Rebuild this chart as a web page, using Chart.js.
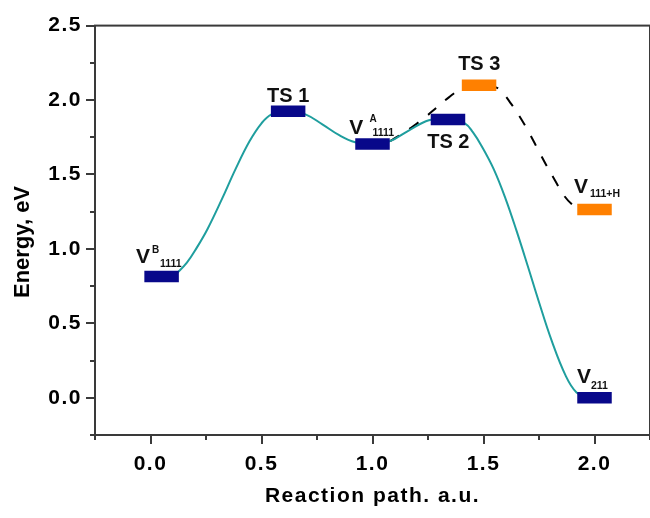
<!DOCTYPE html>
<html><head><meta charset="utf-8">
<script src="https://cdn.jsdelivr.net/npm/chart.js@4.4.1/dist/chart.umd.min.js"></script>
<style>html,body{margin:0;padding:0;background:#fff;overflow:hidden}canvas{display:block}</style>
</head><body>
<canvas id="c" width="650" height="518"></canvas>
<script>
// ---------- data ----------
const levelNames = ['VB1111', 'TS1', 'VA1111', 'TS2', 'TS3', 'V111+H', 'V211'];
const levelX = [0.05, 0.62, 1.0, 1.34, 1.48, 2.0, 2.0];
const levelE = [0.815, 1.925, 1.705, 1.87, 2.10, 1.265, 0.0];
const levelKind = ['main', 'main', 'main', 'main', 'alt', 'alt', 'main'];
const labelMain = ['V', 'TS 1', 'V', 'TS 2', 'TS 3', 'V', 'V'];
const labelSup = ['B', '', 'A', '', '', '', ''];
const labelSub = ['1111', '', '1111', '', '', '111+H', '211'];

// solid path (V^B -> TS1 -> V^A -> TS2 -> V211)
const pathX = [0.114,0.163,0.208,0.257,0.320,0.383,0.446,0.500,0.545,0.617,0.698,0.774,0.850,0.922,0.999,1.079,1.165,1.254,1.339,1.416,1.452,1.492,1.546,1.600,1.649,1.699,1.748,1.807,1.870,1.919,1.973];
const pathE = [0.829,0.906,1.007,1.134,1.329,1.536,1.723,1.844,1.904,1.931,1.904,1.837,1.764,1.717,1.704,1.724,1.797,1.864,1.877,1.844,1.784,1.690,1.536,1.335,1.121,0.887,0.652,0.384,0.149,0.036,0.0];
// dashed path (V^A -> TS3 -> V111+H)
const altX = [1.079,1.129,1.183,1.237,1.290,1.344,1.398,1.479,1.556,1.592,1.623,1.659,1.704,1.749,1.785,1.821,1.861,1.897,1.928,1.996];
const altE = [1.724,1.770,1.824,1.884,1.951,2.018,2.072,2.098,2.085,2.038,1.978,1.898,1.784,1.657,1.557,1.463,1.362,1.302,1.275,1.266];

const xMajorTicks = [0, 0.5, 1.0, 1.5, 2.0];
const xMinorTicks = [-0.25, 0.25, 0.75, 1.25, 1.75, 2.25];
const yMajorTicks = [0, 0.5, 1.0, 1.5, 2.0, 2.5];
const yMinorTicks = [-0.25, 0.25, 0.75, 1.25, 1.75, 2.25];

// ---------- style ----------
const NAVY = '#08088a', ORANGE = '#ff8000', TEAL = '#1f9e9e', AXIS = '#3a3a3a';
const FONT = 'Liberation Sans';
// label offsets in px relative to level centre
const LBL = [
  {m: [-25.6, -13.5], sup: [-9.6, -23.5], sub: [-1.6, -9]},
  {m: [0, -9.7], c: true},
  {m: [-23.3, -9.8], sup: [-3, -21.5], sub: [0, -7.8]},
  {m: [0.3, 28.7], c: true},
  {m: [0.2, -15], c: true},
  {m: [-20.5, -16.5], sub: [-4.5, -12.8]},
  {m: [-17.5, -14.5], sub: [-3.5, -9.2]}
];

const pts = (xs, ys) => xs.map((v, i) => ({x: v, y: ys[i]}));

const decor = {
  id: 'decor',
  beforeDraw(chart) { chart.ctx.letterSpacing = '1.5px'; },
  beforeDatasetsDraw(chart) { chart.ctx.letterSpacing = '0px'; },
  afterDatasetsDraw(chart) {
    const {ctx, chartArea: a, scales: {x, y}} = chart;
    ctx.save();
    ctx.strokeStyle = AXIS; ctx.lineWidth = 2;
    ctx.strokeRect(a.left, a.top, a.right - a.left, a.bottom - a.top);
    ctx.beginPath();
    yMajorTicks.forEach(v => { const p = Math.round(y.getPixelForValue(v)); ctx.moveTo(a.left - 9, p); ctx.lineTo(a.left, p); });
    yMinorTicks.forEach(v => { const p = Math.round(y.getPixelForValue(v)); ctx.moveTo(a.left - 5, p); ctx.lineTo(a.left, p); });
    xMajorTicks.forEach(v => { const p = Math.round(x.getPixelForValue(v)); ctx.moveTo(p, a.bottom); ctx.lineTo(p, a.bottom + 9); });
    xMinorTicks.forEach(v => { const p = Math.round(x.getPixelForValue(v)); ctx.moveTo(p, a.bottom); ctx.lineTo(p, a.bottom + 5); });
    ctx.stroke();

    // level labels
    ctx.fillStyle = '#111';
    ctx.textBaseline = 'alphabetic';
    levelX.forEach((lx, i) => {
      const cx = x.getPixelForValue(lx), cy = y.getPixelForValue(levelE[i]);
      const L = LBL[i];
      if (L.c) {
        ctx.font = 'bold 20px "' + FONT + '"';
        ctx.textAlign = 'center';
        ctx.fillText(labelMain[i], cx + L.m[0], cy + L.m[1]);
      } else {
        ctx.textAlign = 'left';
        ctx.font = 'bold 21px "' + FONT + '"';
        ctx.fillText(labelMain[i], cx + L.m[0], cy + L.m[1]);
        if (labelSup[i]) { ctx.font = 'bold 10px "' + FONT + '"'; ctx.fillText(labelSup[i], cx + L.sup[0], cy + L.sup[1]); }
        if (labelSub[i]) { ctx.font = 'bold 10.5px "' + FONT + '"'; ctx.fillText(labelSub[i], cx + L.sub[0], cy + L.sub[1]); }
      }
    });

    // y axis title
    ctx.translate(22.5, 242);
    ctx.rotate(-Math.PI / 2);
    ctx.font = 'bold 22px "' + FONT + '"';
    ctx.textAlign = 'center';
    ctx.textBaseline = 'middle';
    ctx.fillStyle = '#000';
    ctx.fillText('Energy, eV', 0, 0);
    ctx.restore();
  }
};

new Chart(document.getElementById('c'), {
  type: 'line',
  data: {
    datasets: [
      {
        label: 'levels',
        data: pts(levelX, levelE),
        showLine: false,
        pointStyle: 'line',
        pointRadius: 17.25,
        pointBorderWidth: 11.5,
        pointBorderColor: levelKind.map(k => k === 'alt' ? ORANGE : NAVY),
        pointBackgroundColor: levelKind.map(k => k === 'alt' ? ORANGE : NAVY)
      },
      {
        label: 'path',
        data: pts(pathX, pathE),
        borderColor: TEAL,
        borderWidth: 2,
        pointRadius: 0,
        fill: false,
        tension: 0.4
      },
      {
        label: 'alt',
        data: pts(altX, altE),
        borderColor: '#000',
        borderWidth: 2,
        borderDash: [11, 12],
        pointRadius: 0,
        fill: false,
        tension: 0.4
      }
    ]
  },
  options: {
    responsive: false,
    devicePixelRatio: 1,
    animation: false,
    events: [],
    layout: {autoPadding: false, padding: {top: 24, left: 0, right: 0, bottom: 0}},
    plugins: {legend: {display: false}, tooltip: {enabled: false}},
    scales: {
      x: {
        type: 'linear', min: -0.25, max: 2.25,
        afterFit(s) { s.height = 83; },
        afterBuildTicks(s) { s.ticks = xMajorTicks.map(v => ({value: v})); },
        grid: {display: false, drawTicks: false},
        border: {display: false},
        ticks: {padding: 17, maxRotation: 0, autoSkip: false, color: '#000',
                font: {family: FONT, size: 21, weight: 'bold'},
                callback: v => v.toFixed(1)},
        title: {display: true, text: 'Reaction path. a.u.', color: '#000',
                font: {family: FONT, size: 21, weight: 'bold', lineHeight: 1.2},
                padding: {top: 0, bottom: 9.4}}
      },
      y: {
        type: 'linear', min: -0.25, max: 2.5,
        afterFit(s) { s.width = 95; },
        afterBuildTicks(s) { s.ticks = yMajorTicks.map(v => ({value: v})); },
        grid: {display: false, drawTicks: false},
        border: {display: false},
        ticks: {padding: 13, color: '#000',
                font: {family: FONT, size: 21, weight: 'bold'},
                callback: v => v.toFixed(1)}
      }
    }
  },
  plugins: [decor]
});
</script>
</body></html>
